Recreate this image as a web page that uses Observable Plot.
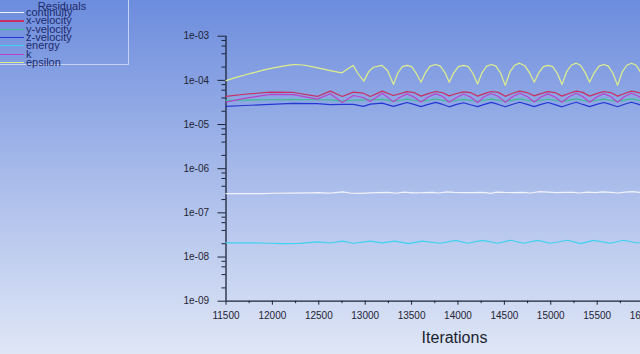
<!DOCTYPE html>
<html>
<head>
<meta charset="utf-8">
<script src="https://cdn.jsdelivr.net/npm/d3@7"></script>
<script src="https://cdn.jsdelivr.net/npm/@observablehq/plot@0.6"></script>
<style>
html, body { margin: 0; padding: 0; width: 640px; height: 354px; overflow: hidden; }
body { position: relative; background: linear-gradient(to bottom, #6c8cdd 0%, #a8bbea 50%, #dfe6f6 100%); font-family: "Liberation Sans", Arial, sans-serif; }
#chart { position: absolute; left: 0; top: 0; }
#chart svg { max-width: none; background: transparent; display: block; }
#legend { position: absolute; left: -2px; top: -2px; width: 131px; height: 67px; border: 1px solid #c6d2f2; box-sizing: border-box; }
#legend .title { position: absolute; left: 0; width: 126px; text-align: center; top: 1px; height: 12px; font-size: 11px; line-height: 12px; color: #1c2a6a; }
#legend .sw { position: absolute; left: 0; width: 25px; height: 1.3px; }
#legend .lab { position: absolute; left: 27px; font-size: 11px; height: 8px; line-height: 8px; color: #1c2a6a; white-space: nowrap; }
</style>
</head>
<body>
<div id="chart"></div>
<div id="legend"></div>
<script>
// ---------- data ----------
const seriesNames = ["continuity", "x-velocity", "y-velocity", "z-velocity", "energy", "k", "epsilon"];
const seriesColors = ["#f2f3f8", "#c92f62", "#3cbf8e", "#2238d2", "#3fd2f0", "#b844cc", "#dff08a"];

const iterCont = [11500,11700,11900,12000,12200,12400,12500,12580,12650,12760,12850,12950,13050,13150,13250,13330,13420,13520,13620,13720,13800,13880,13960,14050,14150,14250,14300,14350,14420,14500,14600,14700,14780,14880,14970,15060,15150,15250,15300,15400,15480,15560,15650,15720,15800,15880,15960,16050,16100];
const continuity = [2.72e-7,2.72e-7,2.74e-7,2.78e-7,2.80e-7,2.85e-7,2.88e-7,2.80e-7,2.83e-7,2.98e-7,2.78e-7,2.76e-7,2.85e-7,2.86e-7,2.90e-7,2.78e-7,2.95e-7,2.84e-7,2.86e-7,2.92e-7,2.82e-7,3.00e-7,2.90e-7,2.88e-7,2.86e-7,2.92e-7,2.88e-7,2.76e-7,2.95e-7,2.90e-7,2.88e-7,2.92e-7,2.82e-7,3.02e-7,2.95e-7,2.88e-7,2.90e-7,2.92e-7,2.82e-7,2.94e-7,2.88e-7,3.00e-7,2.90e-7,2.82e-7,2.95e-7,3.02e-7,2.90e-7,2.92e-7,2.90e-7];

const iterMid = [11500,11700,11977,12225,12484,12624,12753,12872,12980,13055,13184,13303,
  13380,13450,13525,13601, 13680,13760,13835,13906, 13985,14060,14135,14211, 14285,14360,14435,14510,
  14590,14665,14745,14822, 14895,14970,15045,15121, 15200,15275,15345,15418, 15495,15570,15645,15720,
  15795,15870,15950,16030, 16100];
const xVelocity = [4.32e-5,4.85e-5,5.40e-5,5.32e-5,4.32e-5,5.70e-5,4.32e-5,5.41e-5,5.13e-5,4.32e-5,5.70e-5,4.55e-5,
  5.00e-5,5.55e-5,5.30e-5,4.40e-5, 5.00e-5,5.60e-5,5.25e-5,4.45e-5, 5.05e-5,5.50e-5,5.30e-5,4.40e-5, 5.00e-5,5.60e-5,5.35e-5,4.35e-5,
  5.10e-5,5.70e-5,5.30e-5,4.45e-5, 5.00e-5,5.55e-5,5.30e-5,4.40e-5, 5.10e-5,5.70e-5,5.35e-5,4.40e-5, 5.00e-5,5.60e-5,5.30e-5,4.40e-5,
  5.05e-5,5.70e-5,5.30e-5,4.40e-5, 5.00e-5];
const yVelocity = [3.51e-5,3.58e-5,3.64e-5,3.66e-5,3.64e-5,3.60e-5,3.38e-5,3.55e-5,3.60e-5,3.64e-5,3.70e-5,3.38e-5,
  3.55e-5,3.75e-5,3.55e-5,3.35e-5, 3.55e-5,3.78e-5,3.55e-5,3.35e-5, 3.55e-5,3.72e-5,3.55e-5,3.32e-5, 3.55e-5,3.76e-5,3.55e-5,3.35e-5,
  3.58e-5,3.80e-5,3.55e-5,3.35e-5, 3.55e-5,3.74e-5,3.55e-5,3.34e-5, 3.58e-5,3.80e-5,3.55e-5,3.35e-5, 3.55e-5,3.76e-5,3.55e-5,3.34e-5,
  3.58e-5,3.80e-5,3.55e-5,3.35e-5, 3.55e-5];
const zVelocity = [2.57e-5,2.70e-5,2.85e-5,3.00e-5,2.96e-5,2.81e-5,2.85e-5,2.85e-5,2.57e-5,2.90e-5,3.05e-5,2.57e-5,
  2.85e-5,3.15e-5,2.85e-5,2.55e-5, 2.85e-5,3.18e-5,2.85e-5,2.52e-5, 2.85e-5,3.12e-5,2.80e-5,2.55e-5, 2.85e-5,3.18e-5,2.85e-5,2.52e-5,
  2.88e-5,3.20e-5,2.85e-5,2.55e-5, 2.85e-5,3.15e-5,2.82e-5,2.52e-5, 2.88e-5,3.20e-5,2.85e-5,2.55e-5, 2.85e-5,3.16e-5,2.85e-5,2.52e-5,
  2.88e-5,3.20e-5,2.85e-5,2.55e-5, 2.85e-5];
const kResidual = [3.21e-5,3.90e-5,4.80e-5,4.75e-5,3.76e-5,4.98e-5,3.16e-5,4.55e-5,4.10e-5,3.33e-5,5.13e-5,3.30e-5,
  4.20e-5,4.95e-5,4.20e-5,3.25e-5, 4.20e-5,5.00e-5,4.30e-5,3.20e-5, 4.10e-5,4.90e-5,4.20e-5,3.15e-5, 4.30e-5,5.05e-5,4.30e-5,3.20e-5,
  4.30e-5,5.10e-5,4.30e-5,3.25e-5, 4.20e-5,4.95e-5,4.20e-5,3.20e-5, 4.30e-5,5.10e-5,4.30e-5,3.20e-5, 4.20e-5,5.00e-5,4.30e-5,3.20e-5,
  4.30e-5,5.10e-5,4.30e-5,3.25e-5, 4.20e-5];

const iterEnergy = [11500,11800,11950,12100,12300,12484,12624,12753,12872,13055,13184,13320,13467,13612,13812,13975,14103,14265,14426,14567,14706,14858,14997,15182,15320,15462,15643,15785,15930,16080];
const energy = [2.10e-8,2.10e-8,2.05e-8,2.02e-8,2.03e-8,2.20e-8,2.08e-8,2.30e-8,2.05e-8,2.30e-8,2.10e-8,2.30e-8,2.02e-8,2.30e-8,2.05e-8,2.38e-8,2.05e-8,2.38e-8,2.05e-8,2.40e-8,2.05e-8,2.38e-8,2.05e-8,2.40e-8,2.02e-8,2.38e-8,2.05e-8,2.40e-8,2.08e-8,2.35e-8];

const iterEps = [11500,11600,11700,11800,11900,12000,12100,12200,12250,12350,12450,12550,12650,12750,
  12810,12870,12920,12985,13040,13090,13180,13240,13306,
  13350,13400,13450,13500,13550,13601, 13650,13700,13760,13810,13860,13906, 13955,14005,14060,14110,14160,14211,
  14260,14310,14360,14410,14460,14510, 14560,14610,14665,14720,14770,14822, 14870,14920,14970,15020,15070,15121,
  15170,15220,15275,15320,15370,15418, 15470,15520,15570,15620,15670,15720, 15770,15820,15870,15920,15975,16030, 16080];
const epsilon = [0.99e-4,1.15e-4,1.32e-4,1.50e-4,1.70e-4,1.90e-4,2.08e-4,2.25e-4,2.29e-4,2.20e-4,2.00e-4,1.80e-4,1.62e-4,1.48e-4,
  1.80e-4,2.18e-4,1.45e-4,0.96e-4,1.60e-4,1.98e-4,2.18e-4,1.67e-4,0.81e-4,
  1.45e-4,2.05e-4,2.18e-4,2.05e-4,1.45e-4,0.91e-4, 1.50e-4,2.10e-4,2.29e-4,2.10e-4,1.50e-4,0.91e-4, 1.48e-4,2.05e-4,2.18e-4,2.05e-4,1.45e-4,0.83e-4,
  1.50e-4,2.10e-4,2.29e-4,2.10e-4,1.45e-4,0.77e-4, 1.55e-4,2.20e-4,2.45e-4,2.15e-4,1.50e-4,0.91e-4, 1.48e-4,2.05e-4,2.18e-4,2.05e-4,1.45e-4,0.81e-4,
  1.55e-4,2.20e-4,2.45e-4,2.20e-4,1.50e-4,0.91e-4, 1.50e-4,2.10e-4,2.29e-4,2.10e-4,1.45e-4,0.77e-4, 1.55e-4,2.20e-4,2.45e-4,2.20e-4,1.45e-4,0.85e-4, 1.50e-4];

const xMajorTicks = [11500,12000,12500,13000,13500,14000,14500,15000,15500,16000];
const xMinorTicks = [11750,12250,12750,13250,13750,14250,14750,15250,15750,16250];
const yMajorTicks = [1e-9,1e-8,1e-7,1e-6,1e-5,1e-4,1e-3];
const yMinorFactors = [2,4,6,8];
const xLabel = "Iterations";
const legendTitle = "Residuals";

// ---------- table ----------
const seriesData = [
  [iterCont, continuity], [iterMid, xVelocity], [iterMid, yVelocity], [iterMid, zVelocity],
  [iterEnergy, energy], [iterMid, kResidual], [iterEps, epsilon]
];
const rows = [];
seriesData.forEach(([its, vals], i) => {
  its.forEach((it, j) => rows.push({series: seriesNames[i], iter: it, value: vals[j]}));
});
const yMinorTicks = [];
yMajorTicks.slice(0, -1).forEach(m => yMinorFactors.forEach(f => yMinorTicks.push(m * f)));

const axisColor = "#1b2236";
const fmtY = d => "1e-" + String(Math.round(-Math.log10(d))).padStart(2, "0");
const blank = () => "";

const chart = Plot.plot({
  width: 700,
  height: 354,
  marginLeft: 225.5,
  marginRight: 17.5,
  marginTop: 35.7,
  marginBottom: 53.3,
  x: {domain: [11500, 16425]},
  y: {type: "log", domain: [1e-9, 1e-3]},
  color: {domain: seriesNames, range: seriesColors},
  style: {fontFamily: "'Liberation Sans', Arial, sans-serif", fontSize: "10px", color: "#1e2433", background: "transparent"},
  marks: [
    Plot.axisY(yMinorTicks, {tickSize: 4, tickFormat: blank, label: null, stroke: axisColor}),
    Plot.axisY(yMajorTicks, {tickSize: 8, tickPadding: 9, tickFormat: fmtY, label: null, stroke: axisColor}),
    Plot.axisX(xMinorTicks, {tickSize: 2.5, tickFormat: blank, label: null, stroke: axisColor}),
    Plot.axisX(xMajorTicks, {tickSize: 4, tickPadding: 7, tickFormat: d => String(d), label: null, stroke: axisColor}),
    Plot.ruleX([11500], {stroke: axisColor, strokeWidth: 1.3}),
    Plot.ruleY([1e-9], {stroke: axisColor, strokeWidth: 1.3}),
    Plot.line(rows, {x: "iter", y: "value", z: "series", stroke: "series", strokeWidth: 1.2}),
    Plot.text([xLabel], {frameAnchor: "bottom", lineAnchor: "middle", dy: 37, fontSize: 16, fill: "#1a1f2e"})
  ]
});
document.getElementById("chart").appendChild(chart);

// ---------- legend ----------
const legend = document.getElementById("legend");
const t = document.createElement("div");
t.className = "title";
t.textContent = legendTitle;
legend.appendChild(t);
seriesNames.forEach((name, i) => {
  const y = 13 + 8.3 * i;
  const sw = document.createElement("div");
  sw.className = "sw";
  sw.style.top = y + "px";
  sw.style.background = seriesColors[i];
  legend.appendChild(sw);
  const lab = document.createElement("div");
  lab.className = "lab";
  lab.style.top = (y - 4) + "px";
  lab.textContent = name;
  legend.appendChild(lab);
});
</script>
</body>
</html>
